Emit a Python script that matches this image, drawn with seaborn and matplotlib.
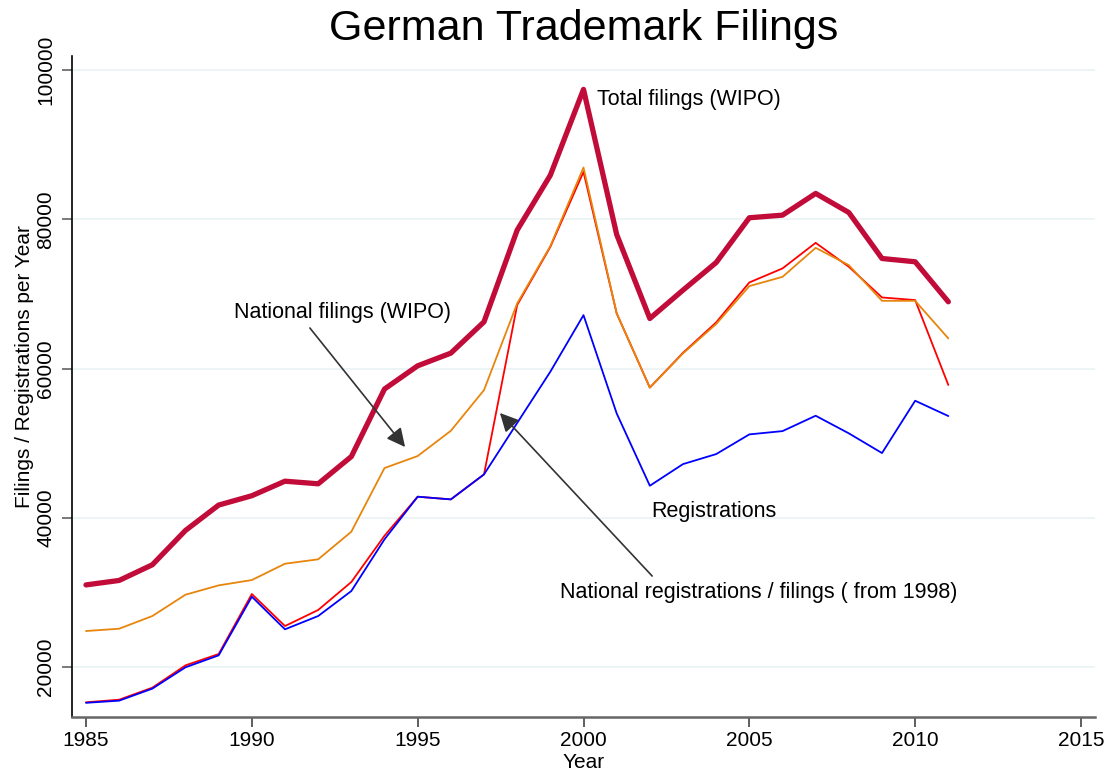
import matplotlib
matplotlib.use("Agg")
import matplotlib.pyplot as plt
import seaborn as sns
import pandas as pd

years = list(range(1985, 2012))

total_filings = [31000, 31600, 33700, 38300, 41700, 42950, 44900, 44550, 48200, 57250,
                 60360, 62060, 66250, 78540, 85900, 97400, 77960, 66700, 70500, 74200,
                 80200, 80550, 83460, 80900, 74740, 74300, 68940]

national_filings = [24820, 25130, 26830, 29690, 30940, 31650, 33840, 34430, 38130, 46660,
                    48270, 51650, 57110, 68720, 76400, 86940, 67390, 57440, 62020, 65960,
                    71040, 72280, 76170, 73850, 69070, 69070, 64030]

national_reg_filings = [15270, 15620, 17230, 20220, 21740, 29780, 25490, 27640, 31390, 37590,
                        42820, 42460, 45810, 68500, 76300, 86350, 67390, 57440, 62100, 66180,
                        71530, 73410, 76840, 73630, 69520, 69170, 57790]

registrations = [15200, 15490, 17100, 19960, 21560, 29420, 25050, 26830, 30180, 37110,
                 42820, 42460, 45810, 52700, 59570, 67150, 53990, 44290, 47190, 48530,
                 51170, 51610, 53670, 51310, 48670, 55680, 53630]

x_ticks = [1985, 1990, 1995, 2000, 2005, 2010, 2015]
y_ticks = [20000, 40000, 60000, 80000, 100000]

df = pd.DataFrame({
    "Year": years,
    "total": total_filings,
    "natfil": national_filings,
    "natreg": national_reg_filings,
    "reg": registrations,
})

sns.set_theme(style="white")
plt.rcParams["font.family"] = ["Liberation Sans", "DejaVu Sans"]
plt.rcParams["text.color"] = "black"
plt.rcParams["axes.labelcolor"] = "black"
plt.rcParams["xtick.color"] = "black"
plt.rcParams["ytick.color"] = "black"

fig = plt.figure(figsize=(11.10, 7.73), dpi=100)
ax = fig.add_axes([72 / 1110, (773 - 717) / 773, (1095 - 72) / 1110, (717 - 56) / 773])

for yv in y_ticks:
    ax.axhline(yv, color="#EAF2F3", lw=1.2, zorder=0)

sns.lineplot(data=df, x="Year", y="total", ax=ax, color="#C10C3A", lw=3.8, zorder=3)
sns.lineplot(data=df, x="Year", y="natreg", ax=ax, color="#FF0000", lw=1.3, zorder=4)
sns.lineplot(data=df, x="Year", y="natfil", ax=ax, color="#E8850C", lw=1.3, zorder=5)
sns.lineplot(data=df, x="Year", y="reg", ax=ax, color="#0000FF", lw=1.3, zorder=6)

ax.set_xlim(1984.578, 2015.422)
ax.set_ylim(13300, 101876)
ax.set_xticks(x_ticks)
ax.set_yticks(y_ticks)
ax.set_xticklabels([str(t) for t in x_ticks], fontsize=15)
ax.set_yticklabels([str(t) for t in y_ticks], fontsize=15, rotation=90, va="center")
ax.tick_params(axis="both", direction="out", length=7, width=1.1,
               bottom=True, left=True)
ax.tick_params(axis="x", pad=3, color="#333333")
ax.tick_params(axis="y", pad=5, color="#555555")

for s in ["top", "right"]:
    ax.spines[s].set_visible(False)
ax.spines["left"].set_color("#000000")
ax.spines["left"].set_linewidth(1.2)
ax.spines["bottom"].set_color("#666666")
ax.spines["bottom"].set_linewidth(1.8)

ax.set_xlabel("Year", fontsize=15, labelpad=2)
ax.set_ylabel("Filings / Registrations per Year", fontsize=15, labelpad=2)
ax.yaxis.label.set_y(0.53)

fig.text(584 / 1110, 1 - 29 / 773, "German Trademark Filings", fontsize=31,
         ha="center", va="center")

fs_ann = 15.5
ax.text(2000.41, 95980, "Total filings (WIPO)", fontsize=fs_ann, ha="left", va="center")
ax.text(2002.03, 40900, "Registrations", fontsize=fs_ann, ha="left", va="center")
ax.text(1989.46, 67440, "National filings (WIPO)", fontsize=fs_ann, ha="left", va="center")
ax.text(1999.29, 30050, "National registrations / filings ( from 1998)", fontsize=fs_ann,
        ha="left", va="center")

arrow = dict(arrowstyle="-|>", color="#333333", lw=1.2, mutation_scale=28,
             shrinkA=0, shrinkB=0)
ax.annotate("", xy=(1994.62, 49480), xytext=(1991.75, 65430), arrowprops=arrow, zorder=7)
ax.annotate("", xy=(1997.48, 54040), xytext=(2002.07, 32190), arrowprops=arrow, zorder=7)

fig.savefig("out.png", dpi=100, facecolor="white")
